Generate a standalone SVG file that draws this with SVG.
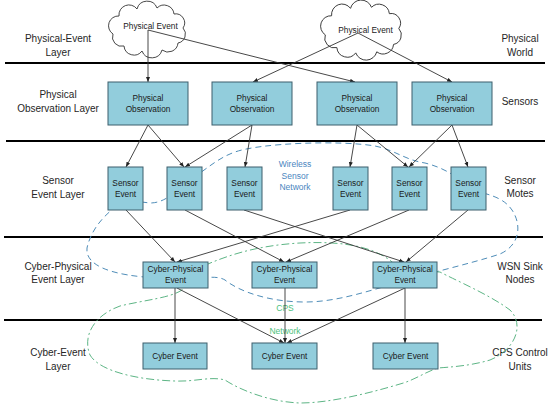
<svg xmlns="http://www.w3.org/2000/svg" width="550" height="409" viewBox="0 0 550 409">
<style>
.lbl{font-family:"Liberation Sans",Arial,sans-serif;font-size:10px;fill:#262626;text-anchor:middle}
.bt{font-family:"Liberation Sans",Arial,sans-serif;font-size:8.3px;fill:#1a1a1a;text-anchor:middle}
.box{fill:#92CDDC;stroke:#3D5F6C;stroke-width:1}
.cloud{fill:#fff;stroke:#333;stroke-width:0.9}
.sep{stroke:#000;stroke-width:2}
.arr{stroke:#333;stroke-width:0.9;fill:none;marker-end:url(#ah)}
.wsn{fill:none;stroke:#4F8DB8;stroke-width:1;stroke-dasharray:6 4}
.cps{fill:none;stroke:#5DB585;stroke-width:1;stroke-dasharray:8 3 2 3}
.wt{font-family:"Liberation Sans",Arial,sans-serif;font-size:8.5px;fill:#4A86C0;text-anchor:middle}
.gt{font-family:"Liberation Sans",Arial,sans-serif;font-size:8.5px;fill:#4DBF7C;text-anchor:middle}
</style>
<defs>
<marker id="ah" viewBox="0 0 10 10" refX="10" refY="5" markerWidth="5" markerHeight="5" orient="auto" markerUnits="userSpaceOnUse"><path d="M0,1 L10,5 L0,9 z" fill="#222"/></marker>
<path id="cloudshape" d="M6,31 A9.8,9.8 0 0 1 12,13 A10,10 0 0 1 30,6 A10.5,10.5 0 0 1 50,5 A10,10 0 0 1 67,11 A9,9 0 0 1 76,25 A9,9 0 0 1 71,40 A10,10 0 0 1 55,47 A10.5,10.5 0 0 1 35,48 A10,10 0 0 1 17,43 A9.2,9.2 0 0 1 6,31 Z"/>
</defs>
<rect width="550" height="409" fill="#fff"/>

<g id="separators">
<line class="sep" x1="5" y1="63" x2="545" y2="63"/>
<line class="sep" x1="6" y1="141" x2="545" y2="141"/>
<line class="sep" x1="4" y1="237" x2="543" y2="237"/>
<line class="sep" x1="4" y1="320" x2="542" y2="320"/>
</g>

<g id="layer-labels">
<text class="lbl" x="58" y="41.5">Physical-Event</text>
<text class="lbl" x="58" y="55.5">Layer</text>
<text class="lbl" x="58" y="97.5">Physical</text>
<text class="lbl" x="58" y="111.5">Observation Layer</text>
<text class="lbl" x="58" y="183.5">Sensor</text>
<text class="lbl" x="58" y="197.5">Event Layer</text>
<text class="lbl" x="58" y="269.5">Cyber-Physical</text>
<text class="lbl" x="58" y="282.5">Event Layer</text>
<text class="lbl" x="58" y="355.5">Cyber-Event</text>
<text class="lbl" x="58" y="369.5">Layer</text>
<text class="lbl" x="520" y="41.5">Physical</text>
<text class="lbl" x="520" y="55.5">World</text>
<text class="lbl" x="520" y="104.5">Sensors</text>
<text class="lbl" x="520" y="183.5">Sensor</text>
<text class="lbl" x="520" y="196.5">Motes</text>
<text class="lbl" x="520" y="269.5">WSN Sink</text>
<text class="lbl" x="520" y="282.5">Nodes</text>
<text class="lbl" x="520" y="355.5">CPS Control</text>
<text class="lbl" x="520" y="369.5">Units</text>
</g>

<g id="networks">
<path class="wsn" d="M125,200 C110,210 92,225 87,248 C85,265 110,276 160,278 C200,280 215,274 225,280 C240,292 270,302 305,302 C335,302 365,292 390,285 C420,275 470,264 500,254 C520,245 522,225 512,210 C505,200 495,195 470,190 C460,178 445,168 425,163 C405,160 395,150 375,146 C340,140 260,143 235,152 C218,158 208,168 190,180 C175,192 165,203 150,203 L125,200 Z"/>
<path class="cps" d="M190,272 C220,258 250,246 300,243 C340,241 380,245 400,270 L440,272 C455,280 490,295 510,310 C525,325 515,350 490,360 C470,366 450,367 438,368 C425,372 415,380 400,384 C370,393 330,403 300,403 C270,402 240,390 225,380 C210,376 195,382 175,381 C140,380 100,372 90,355 C82,335 95,315 120,306 C145,300 170,298 182,290 Z"/>
<text class="wt" x="295" y="167">Wireless</text>
<text class="wt" x="295" y="179">Sensor</text>
<text class="wt" x="295" y="190">Network</text>
<text class="gt" x="285" y="311">CPS</text>
<text class="gt" x="285" y="334">Network</text>
</g>

<g id="cloud1">
<use href="#cloudshape" class="cloud" transform="translate(107,3)"/>
<text class="bt" x="150.5" y="29">Physical Event</text>
</g>
<g id="cloud2">
<use href="#cloudshape" class="cloud" transform="translate(319,2) scale(1.05,1.06)"/>
<text class="bt" x="365.5" y="33">Physical Event</text>
</g>

<g id="connectors">
<line class="arr" x1="148" y1="30" x2="148" y2="82"/>
<line class="arr" x1="148" y1="30" x2="355" y2="82"/>
<line class="arr" x1="358" y1="33" x2="253" y2="82"/>
<line class="arr" x1="358" y1="33" x2="452" y2="82"/>
<line class="arr" x1="148" y1="125" x2="126" y2="167"/>
<line class="arr" x1="148" y1="125" x2="184" y2="167"/>
<line class="arr" x1="252" y1="125" x2="185" y2="167"/>
<line class="arr" x1="252" y1="125" x2="245" y2="167"/>
<line class="arr" x1="357" y1="125" x2="350" y2="167"/>
<line class="arr" x1="357" y1="125" x2="408" y2="167"/>
<line class="arr" x1="452" y1="125" x2="409" y2="167"/>
<line class="arr" x1="452" y1="125" x2="468" y2="167"/>
<line class="arr" x1="126" y1="210" x2="175" y2="262"/>
<line class="arr" x1="185" y1="210" x2="284" y2="262"/>
<line class="arr" x1="244" y1="210" x2="404" y2="262"/>
<line class="arr" x1="350" y1="210" x2="177" y2="262"/>
<line class="arr" x1="409" y1="210" x2="286" y2="262"/>
<line class="arr" x1="468" y1="210" x2="406" y2="262"/>
<line class="arr" x1="175" y1="288" x2="175" y2="343"/>
<line class="arr" x1="177" y1="288" x2="284" y2="343"/>
<line class="arr" x1="285" y1="288" x2="285" y2="343"/>
<line class="arr" x1="405" y1="288" x2="287" y2="343"/>
<line class="arr" x1="405" y1="288" x2="405" y2="343"/>
</g>

<g id="po1"><rect class="box" x="108" y="82" width="80" height="43"/><text class="bt" x="148" y="101">Physical</text><text class="bt" x="148" y="112">Observation</text></g>
<g id="po2"><rect class="box" x="212" y="82" width="80" height="43"/><text class="bt" x="252" y="101">Physical</text><text class="bt" x="252" y="112">Observation</text></g>
<g id="po3"><rect class="box" x="317" y="82" width="80" height="43"/><text class="bt" x="357" y="101">Physical</text><text class="bt" x="357" y="112">Observation</text></g>
<g id="po4"><rect class="box" x="412" y="82" width="80" height="43"/><text class="bt" x="452" y="101">Physical</text><text class="bt" x="452" y="112">Observation</text></g>

<g id="se1"><rect class="box" x="108" y="167" width="35" height="43"/><text class="bt" x="125.5" y="186">Sensor</text><text class="bt" x="125.5" y="197">Event</text></g>
<g id="se2"><rect class="box" x="167" y="167" width="35" height="43"/><text class="bt" x="184.5" y="186">Sensor</text><text class="bt" x="184.5" y="197">Event</text></g>
<g id="se3"><rect class="box" x="227" y="167" width="35" height="43"/><text class="bt" x="244.5" y="186">Sensor</text><text class="bt" x="244.5" y="197">Event</text></g>
<g id="se4"><rect class="box" x="333" y="167" width="35" height="43"/><text class="bt" x="350.5" y="186">Sensor</text><text class="bt" x="350.5" y="197">Event</text></g>
<g id="se5"><rect class="box" x="392" y="167" width="35" height="43"/><text class="bt" x="409.5" y="186">Sensor</text><text class="bt" x="409.5" y="197">Event</text></g>
<g id="se6"><rect class="box" x="451" y="167" width="35" height="43"/><text class="bt" x="468.5" y="186">Sensor</text><text class="bt" x="468.5" y="197">Event</text></g>

<g id="cp1"><rect class="box" x="143" y="262" width="65" height="26"/><text class="bt" x="175.5" y="272">Cyber-Physical</text><text class="bt" x="175.5" y="283">Event</text></g>
<g id="cp2"><rect class="box" x="252" y="262" width="65" height="26"/><text class="bt" x="284.5" y="272">Cyber-Physical</text><text class="bt" x="284.5" y="283">Event</text></g>
<g id="cp3"><rect class="box" x="373" y="262" width="64" height="26"/><text class="bt" x="405" y="272">Cyber-Physical</text><text class="bt" x="405" y="283">Event</text></g>

<g id="ce1"><rect class="box" x="143" y="343" width="64" height="26"/><text class="bt" x="175" y="359">Cyber Event</text></g>
<g id="ce2"><rect class="box" x="252" y="343" width="65" height="26"/><text class="bt" x="284.5" y="359">Cyber Event</text></g>
<g id="ce3"><rect class="box" x="373" y="343" width="65" height="26"/><text class="bt" x="405.5" y="359">Cyber Event</text></g>
</svg>
